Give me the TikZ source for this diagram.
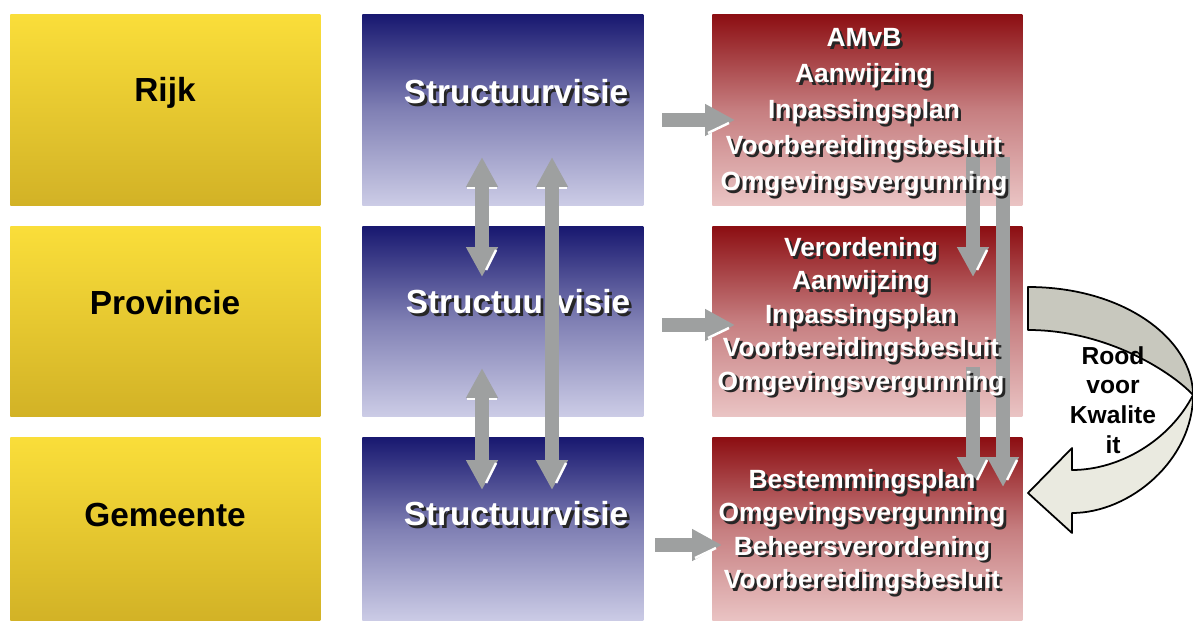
\documentclass[tikz,border=0pt]{standalone}
\usepackage{fontspec}
\setmainfont{Liberation Sans}
\usetikzlibrary{arrows.meta}

\definecolor{goldtop}{RGB}{250,222,58}
\definecolor{goldbot}{RGB}{210,178,38}
\definecolor{navytop}{RGB}{24,24,112}
\definecolor{navymid}{RGB}{128,128,180}
\definecolor{navybot}{RGB}{204,204,230}
\definecolor{redtop}{RGB}{140,14,18}
\definecolor{redmid}{RGB}{198,126,128}
\definecolor{redbot}{RGB}{234,196,196}
\definecolor{arrowgray}{RGB}{158,160,160}
\definecolor{bandback}{RGB}{200,200,190}
\definecolor{bandfront}{RGB}{234,234,224}

% white word with a dark drop shadow
\newcommand{\sh}[1]{\makebox[0pt][l]{\hspace{1.6pt}\raisebox{-1.6pt}{\color{black!85}#1}}#1}

\tikzset{
  box/.style={rectangle, inner sep=0pt, anchor=north west},
  level/.style={box, minimum width=6.2cm, top color=goldtop, bottom color=goldbot},
  visie/.style={box, minimum width=5.62cm, top color=navytop, bottom color=navybot, middle color=navymid},
  instr/.style={box, minimum width=6.2cm, top color=redtop, bottom color=redbot, middle color=redmid},
  levtxt/.style={font=\fontsize{19}{23}\selectfont\bfseries},
  redtxt/.style={align=center, text=white, font=\fontsize{15}{19}\selectfont\bfseries},
  fat/.style={draw=arrowgray, line width=8pt, -{Triangle[length=17pt,width=17pt]}},
  fatboth/.style={fat, {Triangle[length=17pt,width=17pt]}-{Triangle[length=17pt,width=17pt]}},
  hilite/.style={draw=white, line width=1.4pt}
}

\begin{document}
\begin{tikzpicture}[x=0.02cm, y=-0.02cm]
\useasboundingbox (0,0) rectangle (1193,621);

% Bestuurslagen — yellow column
\node[level, minimum height=3.82cm] (rijk) at (10,14) {};
\node[level, minimum height=3.8cm] (prov) at (10,226) {};
\node[level, minimum height=3.68cm] (gem) at (10,437) {};
\node[levtxt] (trijk) at (165,93) {Rijk};
\node[levtxt] (tprov) at (165,303) {Provincie};
\node[levtxt] (tgem) at (165,515) {Gemeente};

% Structuurvisies — blue column
\node[visie, minimum height=3.82cm] (sv1) at (362,14) {};
\node[visie, minimum height=3.8cm] (sv2) at (362,226) {};
\node[visie, minimum height=3.68cm] (sv3) at (362,437) {};
\node[levtxt, text=white] (tsv1) at (516,93) {\sh{Structuurvisie}};
\node[levtxt, text=white] (tsv2) at (518,303) {\sh{Structuurvisie}};
\node[levtxt, text=white] (tsv3) at (516,515) {\sh{Structuurvisie}};

% Instrumenten — red column
\node[instr, minimum height=3.82cm] (ins1) at (712,14) {};
\node[instr, minimum height=3.8cm] (ins2) at (712,226) {};
\node[instr, minimum height=3.68cm] (ins3) at (712,437) {};

% doorwerking naar beneden (behind the texts)
\coordinate (r1a) at (973,157); \coordinate (r1b) at (973,277);
\coordinate (r2a) at (973,367); \coordinate (r2b) at (973,487);
\coordinate (r3a) at (1003,157); \coordinate (r3b) at (1003,487);
\draw[fat] (r1a) -- (r1b);
\draw[fat] (r2a) -- (r2b);
\draw[fat] (r3a) -- (r3b);
\foreach \t in {r1b,r2b,r3b}
  \draw[hilite] ([shift={(14,-27)}]\t) -- ([shift={(4,-7)}]\t);

\node[redtxt, font=\fontsize{15}{20.5}\selectfont\bfseries] (tins1) at (864,114)
  {\sh{AMvB}\\\sh{Aanwijzing}\\\sh{Inpassingsplan}\\\sh{Voorbereidingsbesluit}\\\sh{Omgevingsvergunning}};
\node[redtxt] (tins2) at (861,318)
  {\sh{Verordening}\\\sh{Aanwijzing}\\\sh{Inpassingsplan}\\\sh{Voorbereidingsbesluit}\\\sh{Omgevingsvergunning}};
\node[redtxt] (tins3) at (862,533)
  {\sh{Bestemmingsplan}\\\sh{Omgevingsvergunning}\\\sh{Beheersverordening}\\\sh{Voorbereidingsbesluit}};

% arrow end points
\coordinate (h1a) at (662,120); \coordinate (h1b) at (735,120);
\coordinate (h2a) at (662,325); \coordinate (h2b) at (735,325);
\coordinate (h3a) at (655,545); \coordinate (h3b) at (722,545);
\coordinate (v1a) at (482,157); \coordinate (v1b) at (482,277);
\coordinate (v2a) at (482,368); \coordinate (v2b) at (482,490);
\coordinate (v3a) at (552,157); \coordinate (v3b) at (552,490);

% structuurvisie -> instrumenten
\foreach \s/\t in {h1a/h1b,h2a/h2b,h3a/h3b}{
  \draw[hilite] ([yshift=-7.5pt]\s) -- ++(25,0);
  \draw[fat] (\s) -- (\t);
  \draw[hilite] ([shift={(-27,13)}]\t) -- ([shift={(-6,3)}]\t);
}

% afstemming tussen structuurvisies
\foreach \s in {v1a,v2a,v3a}
  \draw[hilite] ([shift={(-15,31)}]\s) -- ([shift={(15,31)}]\s);
\draw[fatboth] (v1a) -- (v1b);
\draw[fatboth] (v2a) -- (v2b);
\draw[fatboth] (v3a) -- (v3b);
\foreach \t in {v1b,v2b,v3b}
  \draw[hilite] ([shift={(14,-27)}]\t) -- ([shift={(4,-7)}]\t);

% curved arrow, back band then front band
\draw[fill=bandback, line width=1pt, line join=round]
  (1028,287) .. controls (1125,287) and (1193,340) .. (1193,395)
  .. controls (1175,375) and (1110,330) .. (1028,330) -- cycle;
\draw[fill=bandfront, line width=1pt, line join=round]
  (1193,395) .. controls (1193,460) and (1130,513) .. (1072,513)
  -- (1072,533) -- (1028,493) -- (1072,448) -- (1072,470)
  .. controls (1120,470) and (1170,440) .. (1193,395) -- cycle;
\node[align=center, font=\fontsize{14}{17}\selectfont\bfseries] (rvk) at (1113,400) {Rood\\voor\\Kwalite\\it};

\end{tikzpicture}
\end{document}
